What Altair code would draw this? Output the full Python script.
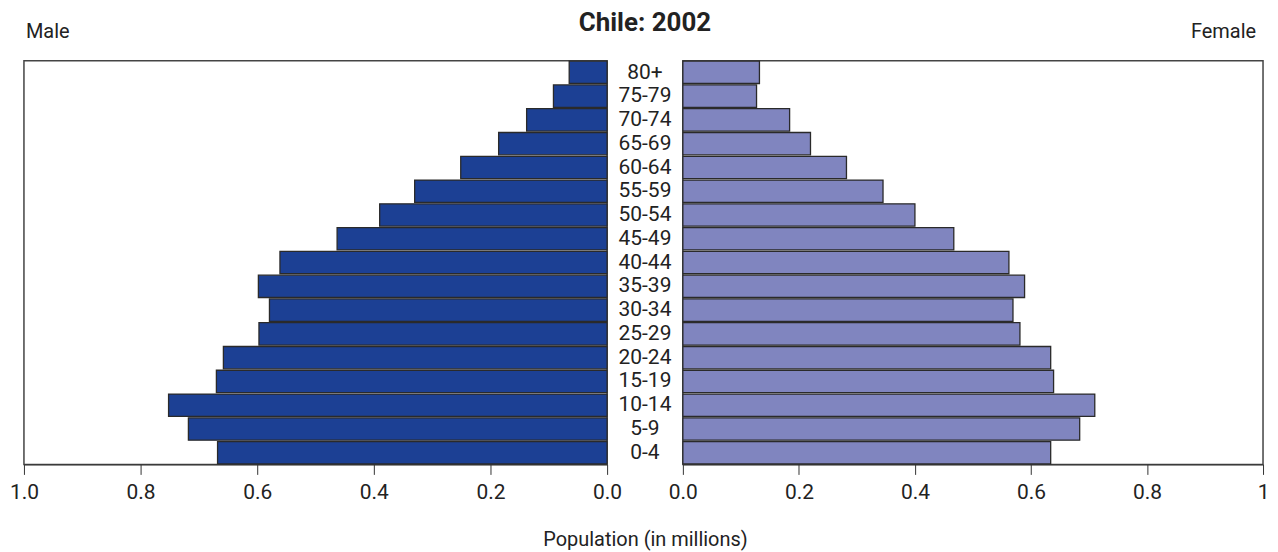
import altair as alt
import pandas as pd

ages = ["80+", "75-79", "70-74", "65-69", "60-64", "55-59", "50-54", "45-49",
        "40-44", "35-39", "30-34", "25-29", "20-24", "15-19", "10-14", "5-9", "0-4"]
male = [0.065, 0.092, 0.138, 0.186, 0.251, 0.330, 0.390, 0.463,
        0.561, 0.598, 0.579, 0.597, 0.658, 0.670, 0.752, 0.718, 0.668]
female = [0.132, 0.127, 0.184, 0.220, 0.282, 0.345, 0.400, 0.467,
          0.562, 0.589, 0.569, 0.581, 0.634, 0.639, 0.710, 0.684, 0.634]
ticks = [0.0, 0.2, 0.4, 0.6, 0.8, 1.0]

FONT = "'Liberation Sans Narrow', Roboto, sans-serif"
H = 405

df = pd.DataFrame({"age": ages, "male": male, "female": female})

yenc = alt.Y("age:N", sort=ages, axis=None,
             scale=alt.Scale(paddingInner=0.06, paddingOuter=0.02))

axis_common = dict(grid=False, ticks=True, tickSize=10, tickColor="#333",
                   domainColor="#333", labelFontSize=21, labelFont=FONT,
                   labelColor="#222", labelPadding=7, title=None,
                   labelFlush=False)

view_box = alt.ViewBackground(stroke="#444", strokeWidth=1.5)

left = alt.Chart(df).mark_bar(color="#1c4094", stroke="#2a2a2a", strokeWidth=1.3).encode(
    x=alt.X("male:Q", scale=alt.Scale(domain=[0, 1], reverse=True, nice=False),
            axis=alt.Axis(values=ticks, format=".1f", **axis_common)),
    y=yenc,
).properties(width=585, height=H, view=view_box,
             title=alt.TitleParams("Male", anchor="start", frame="group", fontSize=20,
                                   font=FONT, fontWeight="normal", color="#222",
                                   offset=19, dx=2))

right = alt.Chart(df).mark_bar(color="#8085bf", stroke="#2a2a2a", strokeWidth=1.3).encode(
    x=alt.X("female:Q", scale=alt.Scale(domain=[0, 1], nice=False),
            axis=alt.Axis(values=ticks,
                          labelExpr="datum.value == 1 ? '1' : format(datum.value, '.1f')",
                          **axis_common)),
    y=yenc,
).properties(width=582, height=H, view=view_box,
             title=alt.TitleParams("Female", anchor="end", frame="group", fontSize=20,
                                   font=FONT, fontWeight="normal", color="#222",
                                   offset=19, dx=-7))

center = alt.Chart(df).transform_calculate(mid="0.5").mark_text(
    fontSize=21, font=FONT, color="#222").encode(
    x=alt.X("mid:Q", scale=alt.Scale(domain=[0, 1]),
            axis=alt.Axis(title="Population (in millions)", labels=False, ticks=False,
                          domain=False, grid=False, titleFontSize=20, titleFont=FONT,
                          titleFontWeight="normal", titleColor="#222", titlePadding=65)),
    y=yenc,
    text="age:N",
).properties(width=76, height=H, view=alt.ViewBackground(stroke="transparent"),
             title=alt.TitleParams("Chile: 2002", anchor="middle", fontSize=26, font=FONT,
                                   fontWeight="bold", color="#222", offset=25))

chart = alt.hconcat(left, center, right, spacing=0, bounds="flush").properties(
    padding={"left": 0, "top": 0, "right": 0, "bottom": 0}
)

chart.save("out.html", embed_options={"renderer": "svg", "actions": False})
